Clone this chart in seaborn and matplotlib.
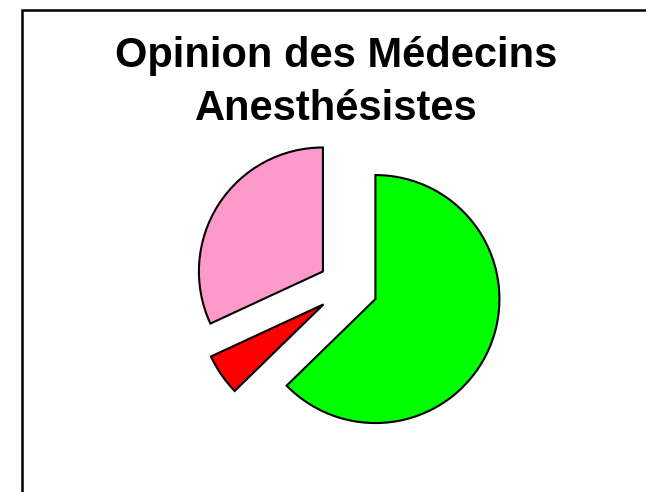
import matplotlib
matplotlib.use("Agg")
import matplotlib.pyplot as plt
import seaborn as sns
from matplotlib.patches import Rectangle

sns.set_theme(style="white")
plt.rcParams['font.family'] = ['Liberation Sans', 'DejaVu Sans']

# Data (percentages)
categories = ["Favorable", "Sans opinion", "Défavorable"]
values = [62.7, 5.4, 31.9]
colors = ["#00FF00", "#FF0000", "#FF99CC"]
explode = [0.24, 0.24, 0.24]
title_lines = ["Opinion des Médecins", "Anesthésistes"]

W, H = 646, 492
fig = plt.figure(figsize=(W / 100, H / 100), dpi=100)
fig.patch.set_facecolor("white")

# frame (clipped at right and bottom)
fig.patches.append(Rectangle((22 / W, -0.1), 1.2, 1 - 9.5 / H + 0.1,
                             transform=fig.transFigure, fill=False,
                             edgecolor="black", linewidth=1.8))

# pie axes: centre (348, 287.5) px, radius 124 px
R = 124
cx, cy = 348, 287.5
half = 1.5 * R
ax = fig.add_axes([(cx - half) / W, (H - cy - half) / H, 2 * half / W, 2 * half / H])
ax.pie(values, colors=colors, explode=explode, startangle=90, counterclock=False,
       radius=1.0, wedgeprops=dict(edgecolor="black", linewidth=1.5))
ax.set_xlim(-1.5, 1.5)
ax.set_ylim(-1.5, 1.5)
ax.set_aspect("equal")
ax.axis("off")

fig.text(336 / W, 1 - 67 / H, title_lines[0], ha="center", va="baseline",
         fontsize=30, fontweight="bold", color="black")
fig.text(336 / W, 1 - 120 / H, title_lines[1], ha="center", va="baseline",
         fontsize=30, fontweight="bold", color="black")

fig.savefig("out.png", dpi=100, facecolor="white")
